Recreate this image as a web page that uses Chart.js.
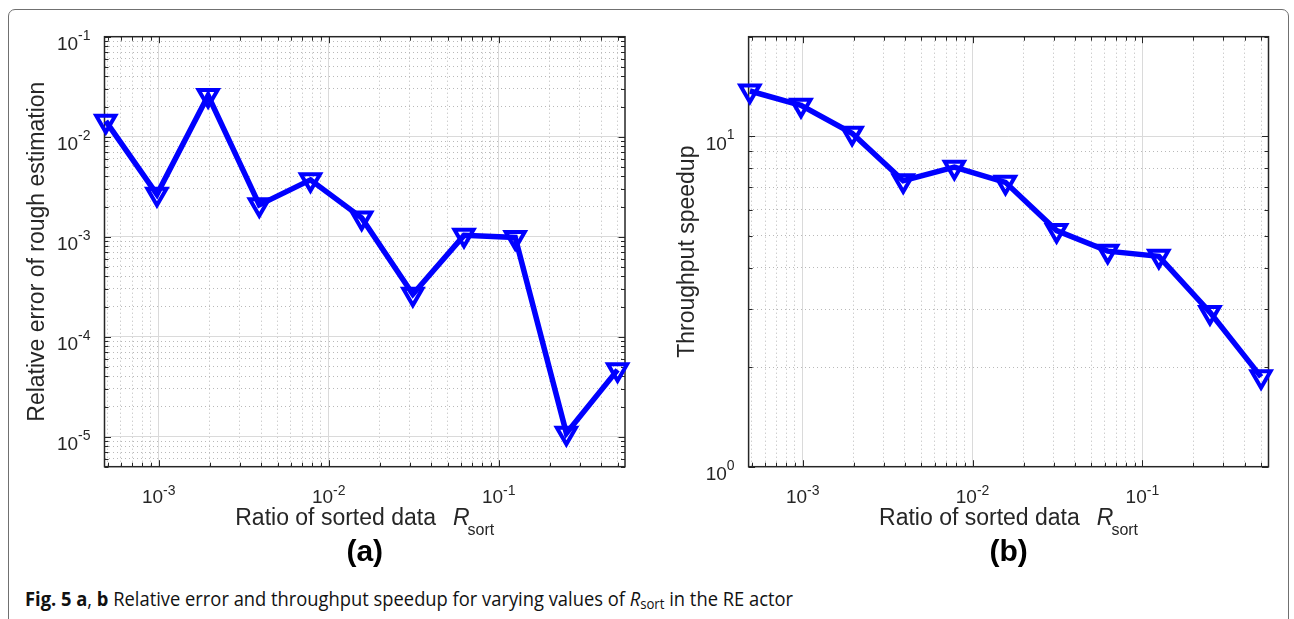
<!DOCTYPE html>
<html>
<head>
<meta charset="utf-8">
<script src="https://cdn.jsdelivr.net/npm/chart.js@4.4.0/dist/chart.umd.min.js"></script>
<style>
  body { margin: 0; background: #fff; width: 1294px; height: 619px; overflow: hidden; position: relative; }
  #frame { position: absolute; left: 8px; top: 9px; width: 1281px; height: 660px; border: 1px solid #707070; border-radius: 7px; box-sizing: border-box; }
  .panel { position: absolute; top: 0; height: 580px; }
  #panelA { left: 0; width: 650px; }
  #panelB { left: 650px; width: 644px; }
  #caption { position: absolute; left: 25px; top: 588px; font-family: "Open Sans", sans-serif; font-size: 19.5px; line-height: 22px; color: #111; white-space: nowrap; transform-origin: 0 0; }
  #caption sub { font-size: 14px; vertical-align: -3px; line-height: 0; }
</style>
</head>
<body>
<div id="frame"></div>
<div class="panel" id="panelA"><canvas id="errChart"></canvas></div>
<div class="panel" id="panelB"><canvas id="speedChart"></canvas></div>
<div id="caption"><b>Fig. 5 a</b>, <b>b</b> Relative error and throughput speedup for varying values of <i>R</i><sub>sort</sub> in the RE actor</div>
<script>
/* Data */
const ratioSorted = [0.00048828125, 0.0009765625, 0.001953125, 0.00390625, 0.0078125, 0.015625,
                     0.03125, 0.0625, 0.125, 0.25, 0.5];
const relError = [0.0143, 0.00265, 0.0258, 0.00208, 0.0037, 0.00154,
                  0.000265, 0.00103, 0.00098, 0.0000108, 0.0000465];
const speedup = [13.7, 12.4, 10.2, 7.33, 8.06, 7.25, 5.18, 4.49, 4.33, 2.93, 1.87];

const xTickExps = [-3, -2, -1];
const errTickExps = [-5, -4, -3, -2, -1];
const speedTickExps = [0, 1];

const xTitle = 'Ratio of sorted data';
const errTitle = 'Relative error of rough estimation';
const speedTitle = 'Throughput speedup';

const TXT = '#262626';
const FONT = '"Liberation Sans", Arial, Helvetica, sans-serif';

function isPow10(v) {
    const l = Math.log10(v);
    return Math.abs(l - Math.round(l)) < 1e-9;
}

// log ticks at 1..9 x 10^k inside [min, max]
function logTicks(scale) {
    const out = [];
    const lo = Math.floor(Math.log10(scale.min)), hi = Math.ceil(Math.log10(scale.max));
    for (let k = lo; k <= hi; k++) {
        for (let m = 1; m <= 9; m++) {
            const v = m * Math.pow(10, k);
            if (v >= scale.min * 0.9999 && v <= scale.max * 1.0001) out.push({value: v});
        }
    }
    scale.ticks = out;
}

function drawPow(ctx, e, x, baseY, expY, align) {
    const base = '10', ex = String(e);
    ctx.font = '19px ' + FONT;
    const w1 = ctx.measureText(base).width;
    ctx.font = '14px ' + FONT;
    const w2 = ctx.measureText(ex).width;
    let start = align === 'right' ? x - w1 - w2 : x - (w1 + w2) / 2;
    ctx.font = '19px ' + FONT;
    ctx.fillText(base, start, baseY);
    ctx.font = '14px ' + FONT;
    ctx.fillText(ex, start + w1, expY);
}

const matlabAxes = {
    id: 'matlabAxes',
    beforeDatasetsDraw(chart, args, opts) {
        const {ctx, chartArea: a} = chart;
        const xs = chart.scales.x, ys = chart.scales.y;
        ctx.save();
        ctx.strokeStyle = TXT;
        ctx.lineWidth = 1;
        ctx.beginPath();
        xs.ticks.forEach(t => {
            const px = Math.round(xs.getPixelForValue(t.value)) + 0.5;
            const len = isPow10(t.value) ? 6.5 : 4;
            ctx.moveTo(px, a.bottom); ctx.lineTo(px, a.bottom - len);
            ctx.moveTo(px, a.top); ctx.lineTo(px, a.top + len);
        });
        ys.ticks.forEach(t => {
            const py = Math.round(ys.getPixelForValue(t.value)) + 0.5;
            const len = isPow10(t.value) ? 6.5 : 4;
            ctx.moveTo(a.left, py); ctx.lineTo(a.left + len, py);
            ctx.moveTo(a.right, py); ctx.lineTo(a.right - len, py);
        });
        ctx.stroke();
        ctx.lineWidth = 1.5;
        ctx.strokeRect(a.left, a.top, a.right - a.left, a.bottom - a.top);
        ctx.restore();
    },
    afterDraw(chart, args, opts) {
        const {ctx, chartArea: a} = chart;
        const xs = chart.scales.x, ys = chart.scales.y;
        ctx.save();
        ctx.fillStyle = TXT;
        ctx.textBaseline = 'alphabetic';
        ctx.textAlign = 'left';
        opts.yExps.forEach(e => {
            const py = ys.getPixelForValue(Math.pow(10, e));
            drawPow(ctx, e, a.left - 14, py + 13.5, py + 3, 'right');
        });
        xTickExps.forEach(e => {
            const px = xs.getPixelForValue(Math.pow(10, e));
            drawPow(ctx, e, px, a.bottom + 36, a.bottom + 28, 'center');
        });
        // x title with R_sort
        const cx = (a.left + a.right) / 2;
        ctx.font = '23px ' + FONT;
        const wMain = ctx.measureText(xTitle).width;
        ctx.font = 'italic 23px ' + FONT;
        const wR = ctx.measureText('R').width;
        ctx.font = '16px ' + FONT;
        const wSub = ctx.measureText('sort').width;
        const gap = 17;
        let x0 = cx - (wMain + gap + wR - 2 + wSub) / 2;
        const by = a.bottom + 58;
        ctx.font = '23px ' + FONT;
        ctx.fillText(xTitle, x0, by);
        ctx.font = 'italic 23px ' + FONT;
        ctx.fillText('R', x0 + wMain + gap, by);
        ctx.font = '16px ' + FONT;
        ctx.fillText('sort', x0 + wMain + gap + wR - 2, by + 10);
        // panel label
        ctx.font = 'bold 30px ' + FONT;
        ctx.fillStyle = '#000';
        ctx.textAlign = 'center';
        ctx.fillText(opts.panel, cx, a.bottom + 94);
        ctx.restore();
    }
};

function makeChart(id, values, yMin, yMax, yTitle, yExps, panel, axisW, padRight) {
    const ctx = document.getElementById(id).getContext('2d');
    return new Chart(ctx, {
        type: 'line',
        data: {
            datasets: [{
                data: ratioSorted.map((x, i) => ({x: x, y: values[i]})),
                borderColor: '#0000ff',
                borderWidth: 5.5,
                borderJoinStyle: 'miter',
                pointStyle: 'triangle',
                rotation: 180,
                pointRadius: 11,
                pointBorderWidth: 4,
                pointBorderColor: '#0000ff',
                pointBackgroundColor: 'rgba(0,0,0,0)',
                tension: 0,
                clip: false
            }]
        },
        options: {
            responsive: true,
            maintainAspectRatio: false,
            animation: false,
            events: [],
            layout: { padding: { top: 36.7, right: padRight, left: 0, bottom: 0 } },
            plugins: {
                legend: { display: false },
                tooltip: { enabled: false },
                matlabAxes: { yExps: yExps, panel: panel }
            },
            scales: {
                x: {
                    type: 'logarithmic',
                    min: 4.8e-4,
                    max: 0.553,
                    afterBuildTicks: logTicks,
                    afterFit: s => { s.height = 580 - 466.7; },
                    ticks: { display: false },
                    grid: {
                        drawTicks: false,
                        lineWidth: 1,
                        color: c => (c.tick && isPow10(c.tick.value)) ? '#dadada' : '#b9b9b9'
                    },
                    border: {
                        display: false,
                        dash: c => (c.tick && !isPow10(c.tick.value)) ? [1, 3] : []
                    }
                },
                y: {
                    type: 'logarithmic',
                    min: yMin,
                    max: yMax,
                    afterBuildTicks: logTicks,
                    afterFit: s => { s.width = axisW; },
                    ticks: { display: false },
                    title: {
                        display: true,
                        text: yTitle,
                        color: TXT,
                        font: { family: FONT, size: 23 },
                        padding: { top: 23.5, bottom: 0 }
                    },
                    grid: {
                        drawTicks: false,
                        lineWidth: 1,
                        color: c => (c.tick && isPow10(c.tick.value)) ? '#dadada' : '#b9b9b9'
                    },
                    border: {
                        display: false,
                        dash: c => (c.tick && !isPow10(c.tick.value)) ? [1, 3] : []
                    }
                }
            }
        },
        plugins: [matlabAxes]
    });
}

window.errChart = makeChart('errChart', relError, 5e-6, 0.1, errTitle, errTickExps, '(a)', 104.5, 25);
window.speedChart = makeChart('speedChart', speedup, 1, 20, speedTitle, speedTickExps, '(b)', 98.6, 25.5);

/* fit caption width to the figure's caption */
const cap = document.getElementById('caption');
const capW = cap.getBoundingClientRect().width;
cap.style.transform = 'scaleX(' + (768 / capW) + ')';
</script>
</body>
</html>
